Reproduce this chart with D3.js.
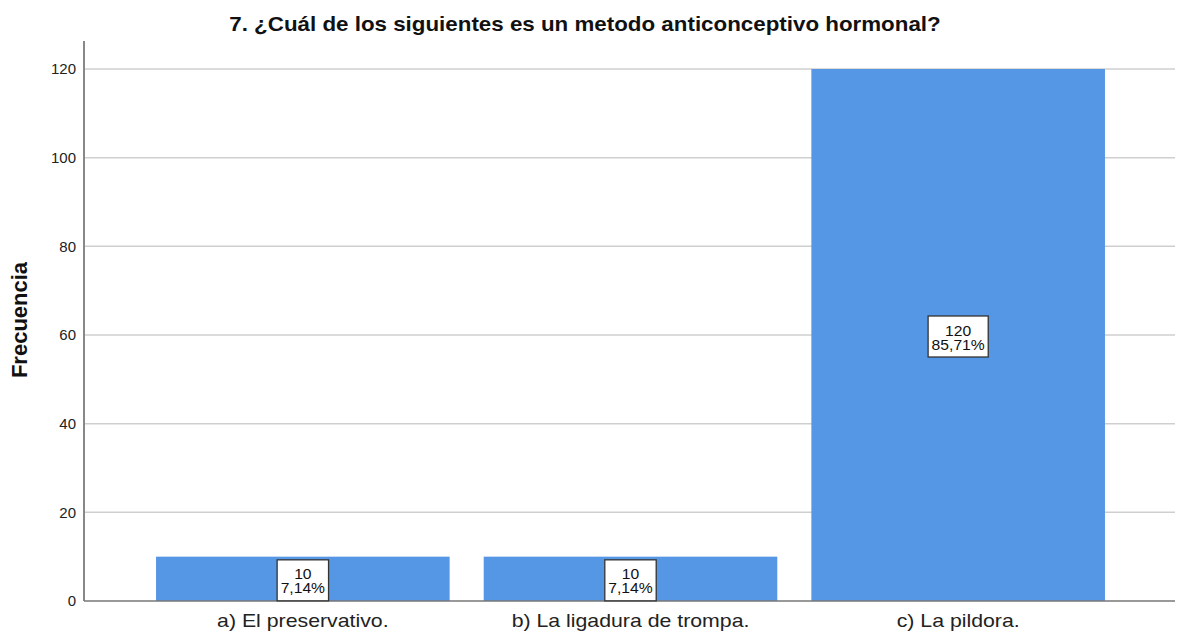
<!DOCTYPE html>
<html>
<head>
<meta charset="utf-8">
<script src="https://cdn.jsdelivr.net/npm/d3@7"></script>
<style>
  body { margin: 0; background: #fff; }
  text { font-family: "Liberation Sans", Arial, sans-serif; }
</style>
</head>
<body>
<div id="chart"></div>
<script>
// data
var categories = ["a) El preservativo.", "b) La ligadura de trompa.", "c) La pildora."];
var counts = [10, 10, 120];
var percents = ["7,14%", "7,14%", "85,71%"];
var yTicks = [0, 20, 40, 60, 80, 100, 120];

var W = 1178, H = 637;
var axisLeft = 84, axisRight = 1175, axisTop = 41, axisBottom = 601;

var svg = d3.select("#chart")
  .append("svg")
  .attr("width", W)
  .attr("height", H);

// widen text a bit, the original renderer draws glyphs wider
function stretch(sel, k) {
  sel.each(function() {
    var w = this.getComputedTextLength();
    d3.select(this)
      .attr("textLength", w * k)
      .attr("lengthAdjust", "spacingAndGlyphs");
  });
}

// scales
var y = d3.scaleLinear()
  .domain([0, 120])
  .range([axisBottom, 69]);

var x = d3.scaleBand()
  .domain(categories)
  .range([139, 1122])
  .paddingInner(0.104)
  .paddingOuter(0.052);

// grid lines
svg.append("g")
  .selectAll("line")
  .data(yTicks.filter(d => d > 0))
  .enter().append("line")
  .attr("x1", axisLeft)
  .attr("x2", axisRight)
  .attr("y1", d => y(d))
  .attr("y2", d => y(d))
  .attr("stroke", "#cfcfcf")
  .attr("stroke-width", 1.5);

// bars
svg.append("g")
  .selectAll("rect")
  .data(counts)
  .enter().append("rect")
  .attr("x", (d, i) => x(categories[i]))
  .attr("y", d => y(d))
  .attr("width", x.bandwidth())
  .attr("height", d => y(0) - y(d))
  .attr("fill", "#5596e5");

// y axis
var yAxis = svg.append("g")
  .attr("transform", "translate(" + axisLeft + ",0)")
  .call(d3.axisLeft(y).tickValues(yTicks).tickSize(0).tickPadding(8));
yAxis.select(".domain").remove();
yAxis.selectAll("text")
  .attr("font-size", 15)
  .attr("fill", "#222")
  .style("font-family", "'Liberation Sans', Arial, sans-serif");

svg.append("line")
  .attr("x1", axisLeft).attr("x2", axisLeft)
  .attr("y1", axisTop).attr("y2", axisBottom)
  .attr("stroke", "#888").attr("stroke-width", 2);

// x axis
var xAxis = svg.append("g")
  .attr("transform", "translate(0," + axisBottom + ")")
  .call(d3.axisBottom(x).tickSize(0).tickPadding(13));
xAxis.select(".domain").remove();
xAxis.selectAll("text")
  .attr("font-size", 19)
  .attr("fill", "#222")
  .style("font-family", "'Liberation Sans', Arial, sans-serif")
  .call(stretch, 1.12);

svg.append("line")
  .attr("x1", axisLeft).attr("x2", axisRight)
  .attr("y1", axisBottom).attr("y2", axisBottom)
  .attr("stroke", "#777").attr("stroke-width", 1.5);

// value labels
var labels = svg.append("g")
  .selectAll("g")
  .data(counts)
  .enter().append("g")
  .attr("transform", (d, i) => "translate(" + (x(categories[i]) + x.bandwidth() / 2) + "," +
    Math.min((y(d) + y(0)) / 2 + 1.5, axisBottom - 20.5) + ")");

var boxes = labels.append("rect")
  .attr("y", -20.5)
  .attr("height", 41)
  .attr("fill", "#fff")
  .attr("stroke", "#333")
  .attr("stroke-width", 1.3);

labels.append("text")
  .attr("text-anchor", "middle")
  .attr("y", -1)
  .attr("font-size", 14.5)
  .attr("fill", "#111")
  .text(d => d)
  .call(stretch, 1.08);

var pct = labels.append("text")
  .attr("text-anchor", "middle")
  .attr("y", 13)
  .attr("font-size", 14.5)
  .attr("fill", "#111")
  .text((d, i) => percents[i])
  .call(stretch, 1.08);

// box width follows the percentage text
pct.each(function(d, i) {
  var w = this.getComputedTextLength() + 7;
  d3.select(boxes.nodes()[i]).attr("x", -w / 2).attr("width", w);
});

// title
svg.append("text")
  .attr("x", 585)
  .attr("y", 31)
  .attr("text-anchor", "middle")
  .attr("font-size", 20.5)
  .attr("font-weight", "bold")
  .attr("fill", "#111")
  .text("7. ¿Cuál de los siguientes es un metodo anticonceptivo hormonal?")
  .call(stretch, 1.09);

// y label
svg.append("text")
  .attr("transform", "translate(27,320) rotate(-90)")
  .attr("text-anchor", "middle")
  .attr("font-size", 22)
  .attr("font-weight", "bold")
  .attr("fill", "#111")
  .text("Frecuencia");
</script>
</body>
</html>
